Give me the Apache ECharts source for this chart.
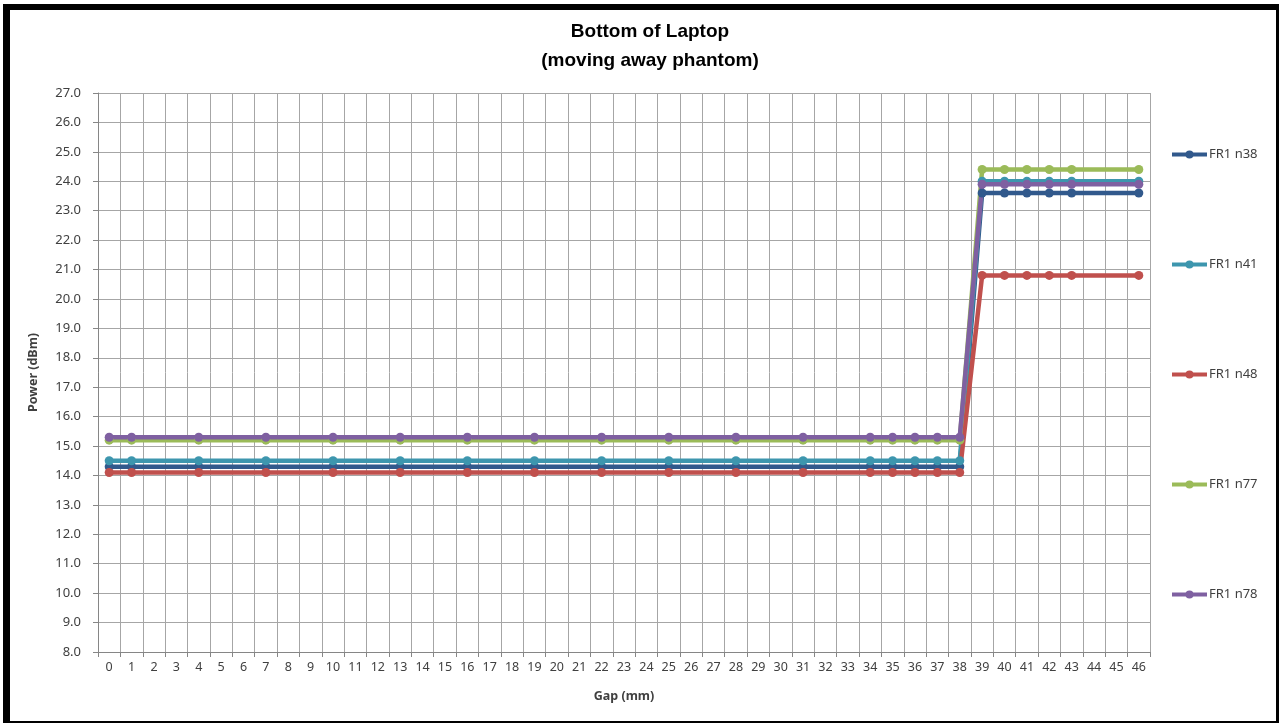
<!DOCTYPE html>
<html>
<head>
<meta charset="utf-8">
<title>Bottom of Laptop</title>
<script src="https://cdn.jsdelivr.net/npm/echarts@6/dist/echarts.min.js"></script>
<style>
    html, body { margin: 0; padding: 0; background: #fff; }
    #wrap { position: relative; width: 1281px; height: 726px; }
    #Echarts1 { position: absolute; left: 0; top: 0; width: 1281px; height: 726px; }
    #frame {
        position: absolute; left: 3px; top: 4px; width: 1266px; height: 711px;
        border-top: 6px solid #000; border-left: 7px solid #000;
        border-right: 3px solid #000; border-bottom: 2px solid #000;
        pointer-events: none;
    }
</style>
</head>
<body>
<div id="wrap">
    <div id="Echarts1"></div>
    <div id="frame"></div>
</div>
<script>
// x 轴类目 0..46 (mm)
var categories = [];
for (var c = 0; c <= 46; c++) { categories.push(String(c)); }

// 实际测量的间距点
var gapPoints = [0, 1, 4, 7, 10, 13, 16, 19, 22, 25, 28, 31, 34, 35, 36, 37, 38, 39, 40, 41, 42, 43, 46];

// 各频段功率 (dBm)
var n38 = [14.3, 14.3, 14.3, 14.3, 14.3, 14.3, 14.3, 14.3, 14.3, 14.3, 14.3, 14.3, 14.3, 14.3, 14.3, 14.3, 14.3, 23.6, 23.6, 23.6, 23.6, 23.6, 23.6];
var n41 = [14.5, 14.5, 14.5, 14.5, 14.5, 14.5, 14.5, 14.5, 14.5, 14.5, 14.5, 14.5, 14.5, 14.5, 14.5, 14.5, 14.5, 24.0, 24.0, 24.0, 24.0, 24.0, 24.0];
var n48 = [14.1, 14.1, 14.1, 14.1, 14.1, 14.1, 14.1, 14.1, 14.1, 14.1, 14.1, 14.1, 14.1, 14.1, 14.1, 14.1, 14.1, 20.8, 20.8, 20.8, 20.8, 20.8, 20.8];
var n77 = [15.2, 15.2, 15.2, 15.2, 15.2, 15.2, 15.2, 15.2, 15.2, 15.2, 15.2, 15.2, 15.2, 15.2, 15.2, 15.2, 15.2, 24.4, 24.4, 24.4, 24.4, 24.4, 24.4];
var n78 = [15.3, 15.3, 15.3, 15.3, 15.3, 15.3, 15.3, 15.3, 15.3, 15.3, 15.3, 15.3, 15.3, 15.3, 15.3, 15.3, 15.3, 23.9, 23.9, 23.9, 23.9, 23.9, 23.9];

var seriesNames = ['FR1 n38', 'FR1 n41', 'FR1 n48', 'FR1 n77', 'FR1 n78'];
var seriesColors = ['#31598C', '#3D96AE', '#C0504D', '#9BBB59', '#7F60A1'];

/**
 * 初始化统计图表
 * */
function initEcharts1() {
    var myChart = echarts.init(document.getElementById('Echarts1'));

    var allValues = [n38, n41, n48, n77, n78];
    var series = allValues.map(function (vals, i) {
        return {
            name: seriesNames[i],
            type: 'line',
            data: gapPoints.map(function (g, k) { return [g, vals[k]]; }),
            symbol: 'circle',
            symbolSize: 9,
            lineStyle: { width: 4.5 },
            itemStyle: { color: seriesColors[i] },
            color: seriesColors[i],
            animation: false
        };
    });

    var labelColor = '#404040';
    var gridColor = '#A6A6A6';

    var option = {
        title: {
            text: 'Bottom of Laptop\n(moving away phantom)',
            left: 645,
            textAlign: 'center',
            top: 12,
            textStyle: {
                fontFamily: 'Liberation Sans',
                fontSize: 19,
                fontWeight: 'bold',
                color: '#000',
                lineHeight: 29
            }
        },
        legend: {
            orient: 'vertical',
            left: 1165,
            top: 143,
            itemWidth: 35,
            itemHeight: 10,
            itemGap: 97,
            data: seriesNames,
            lineStyle: { width: 4 },
            textStyle: { fontFamily: 'Noto Sans', fontSize: 13, color: labelColor, padding: [0, 0, 0, -3] }
        },
        grid: {
            left: 98,
            right: 131,
            top: 93,
            bottom: 74,
            containLabel: false
        },
        xAxis: {
            type: 'category',
            data: categories,
            boundaryGap: true,
            name: 'Gap (mm)',
            nameLocation: 'middle',
            nameGap: 38,
            nameTextStyle: { fontFamily: 'Noto Sans', fontSize: 12.5, fontWeight: 'bold', color: labelColor },
            axisLine: { lineStyle: { color: '#868686', width: 1 } },
            axisTick: { show: true, alignWithLabel: false, length: 5, lineStyle: { color: '#868686' } },
            axisLabel: { interval: 0, margin: 9, fontFamily: 'Noto Sans', fontSize: 12.5, color: labelColor },
            splitLine: { show: true, interval: 0, lineStyle: { color: gridColor, width: 1 } }
        },
        yAxis: {
            type: 'value',
            min: 8,
            max: 27,
            interval: 1,
            name: 'Power (dBm)',
            nameLocation: 'middle',
            nameGap: 58,
            nameTextStyle: { fontFamily: 'Noto Sans', fontSize: 12.5, fontWeight: 'bold', color: labelColor },
            axisLine: { show: true, lineStyle: { color: '#868686', width: 1 } },
            axisTick: { show: true, length: 5, lineStyle: { color: '#868686' } },
            axisLabel: {
                margin: 17,
                fontFamily: 'Noto Sans',
                fontSize: 13,
                color: labelColor,
                formatter: function (v) { return v.toFixed(1); }
            },
            splitLine: { show: true, lineStyle: { color: gridColor, width: 1 } }
        },
        series: series
    };

    myChart.setOption(option);
}

initEcharts1();
</script>
</body>
</html>
